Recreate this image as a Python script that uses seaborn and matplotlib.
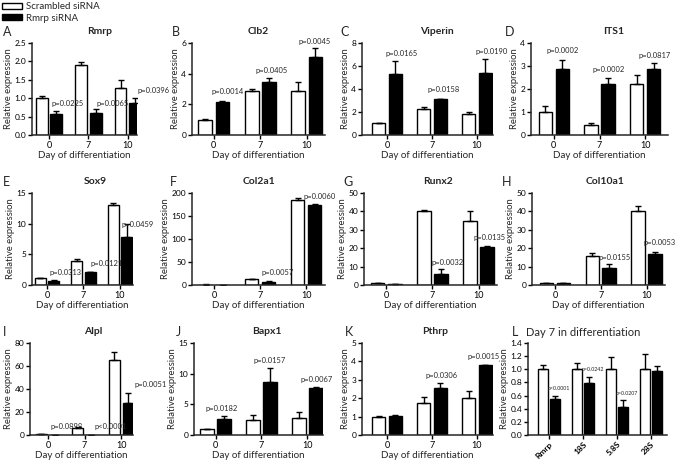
import matplotlib
matplotlib.use("Agg")
import matplotlib.pyplot as plt
import numpy as np
import pandas as pd
import seaborn as sns
from matplotlib.patches import Patch
from matplotlib.ticker import FormatStrFormatter

groups = ["Scrambled siRNA", "Rmrp siRNA"]
days = ["0", "7", "10"]
rrna = ["Rmrp", "18S", "5.8S", "28S"]

# values (mean, upper SEM)
rmrp_scr, rmrp_scr_err = [1.0, 1.9, 1.29], [0.05, 0.08, 0.21]
rmrp_si, rmrp_si_err = [0.58, 0.59, 0.86], [0.08, 0.13, 0.15]
rmrp_p = ["p=0.0225", "p=0.0065", "p=0.0396"]

clb2_scr, clb2_scr_err = [1.0, 2.9, 2.85], [0.03, 0.08, 0.62]
clb2_si, clb2_si_err = [2.18, 3.45, 5.08], [0.05, 0.27, 0.6]
clb2_p = ["p=0.0014", "p=0.0405", "p=0.0045"]

viperin_scr, viperin_scr_err = [1.0, 2.3, 1.85], [0.02, 0.12, 0.18]
viperin_si, viperin_si_err = [5.3, 3.1, 5.4], [1.15, 0.06, 1.2]
viperin_p = ["p=0.0165", "p=0.0158", "p=0.0190"]

its1_scr, its1_scr_err = [1.02, 0.43, 2.2], [0.22, 0.08, 0.42]
its1_si, its1_si_err = [2.86, 2.22, 2.86], [0.42, 0.24, 0.27]
its1_p = ["p=0.0002", "p=0.0002", "p=0.0817"]

sox9_scr, sox9_scr_err = [1.09, 3.93, 13.1], [0.1, 0.3, 0.25]
sox9_si, sox9_si_err = [0.65, 2.07, 7.9], [0.1, 0.1, 2.1]
sox9_p = ["p=0.0313", "p=0.0121", "p=0.0459"]

col2a1_scr, col2a1_scr_err = [1.0, 12.5, 185], [0.2, 1.0, 4.5]
col2a1_si, col2a1_si_err = [0.5, 7.3, 173.5], [0.1, 1.0, 1.5]
col2a1_p = ["", "p=0.0057", "p=0.0060"]

runx2_scr, runx2_scr_err = [0.9, 40, 35], [0.15, 1.0, 5.0]
runx2_si, runx2_si_err = [0.7, 6.0, 20.8], [0.1, 2.5, 0.6]
runx2_p = ["", "p=0.0032", "p=0.0135"]

col10a1_scr, col10a1_scr_err = [0.9, 15.8, 40.4], [0.1, 1.8, 2.3]
col10a1_si, col10a1_si_err = [1.1, 9.2, 16.8], [0.1, 2.0, 1.3]
col10a1_p = ["", "p=0.0155", "p=0.0053"]

alpl_scr, alpl_scr_err = [1.0, 5.8, 65.4], [0.2, 0.8, 6.4]
alpl_si, alpl_si_err = [0.3, 0.1, 27.6], [0.1, 0.05, 8.7]
alpl_p = ["p=0.0898", "p<0.0001", "p=0.0051"]

bapx1_scr, bapx1_scr_err = [1.0, 2.5, 2.8], [0.05, 0.75, 0.95]
bapx1_si, bapx1_si_err = [2.55, 8.6, 7.65], [0.55, 2.4, 0.2]
bapx1_p = ["p=0.0182", "p=0.0157", "p=0.0067"]

pthrp_scr, pthrp_scr_err = [1.0, 1.72, 2.0], [0.02, 0.35, 0.4]
pthrp_si, pthrp_si_err = [1.04, 2.55, 3.78], [0.03, 0.25, 0.04]
pthrp_p = ["", "p=0.0306", "p=0.0015"]

day7_scr, day7_scr_err = [1.0, 1.0, 1.0, 1.0], [0.06, 0.09, 0.19, 0.23]
day7_si, day7_si_err = [0.55, 0.79, 0.42, 0.98], [0.04, 0.09, 0.11, 0.07]
day7_p = ["p<0.0001", "p=0.0242", "p=0.0207", ""]

panels = [
    ("A", "Rmrp", days, rmrp_scr, rmrp_scr_err, rmrp_si, rmrp_si_err, rmrp_p),
    ("B", "Clb2", days, clb2_scr, clb2_scr_err, clb2_si, clb2_si_err, clb2_p),
    ("C", "Viperin", days, viperin_scr, viperin_scr_err, viperin_si, viperin_si_err, viperin_p),
    ("D", "ITS1", days, its1_scr, its1_scr_err, its1_si, its1_si_err, its1_p),
    ("E", "Sox9", days, sox9_scr, sox9_scr_err, sox9_si, sox9_si_err, sox9_p),
    ("F", "Col2a1", days, col2a1_scr, col2a1_scr_err, col2a1_si, col2a1_si_err, col2a1_p),
    ("G", "Runx2", days, runx2_scr, runx2_scr_err, runx2_si, runx2_si_err, runx2_p),
    ("H", "Col10a1", days, col10a1_scr, col10a1_scr_err, col10a1_si, col10a1_si_err, col10a1_p),
    ("I", "Alpl", days, alpl_scr, alpl_scr_err, alpl_si, alpl_si_err, alpl_p),
    ("J", "Bapx1", days, bapx1_scr, bapx1_scr_err, bapx1_si, bapx1_si_err, bapx1_p),
    ("K", "Pthrp", days, pthrp_scr, pthrp_scr_err, pthrp_si, pthrp_si_err, pthrp_p),
    ("L", "Day 7 in differentiation", rrna, day7_scr, day7_scr_err, day7_si, day7_si_err, day7_p),
]

# layout: axes box in pixels (left, right, top, bottom), xlim, ymax, ystep,
# title centre x, letter x (px), p-label positions (data units)
layout = {
    "A": ((32, 137, 43, 135), (-0.43, 2.23), 2.5, 0.5, 100, 3, [(0.46, 0.86), (1.62, 0.86), (2.66, 1.22)]),
    "B": ((192, 325, 43, 135), (-0.47, 2.39), 6, 2, 258, 172, [(0.3, 2.84), (1.25, 4.2), (2.17, 6.07)]),
    "C": ((362, 493, 43, 135), (-0.56, 2.36), 8, 2, 437, 340, [(0.33, 7.12), (1.26, 3.92), (2.33, 7.27)]),
    "D": ((531, 668, 43, 135), (-0.5, 2.5), 4, 1, 614, 505, [(0.19, 3.67), (1.2, 2.85), (2.2, 3.45)]),
    "E": ((32, 133, 193, 285), (-0.41, 2.36), 15, 5, 95, 3, [(0.5, 2.07), (1.64, 3.55), (2.48, 9.93)]),
    "F": ((192, 325, 193, 285), (-0.48, 2.41), 200, 50, 259, 170, [None, (1.37, 27.6), (2.3, 193)]),
    "G": ((364, 497, 193, 285), (-0.48, 2.4), 50, 10, 438, 343, [None, (1.33, 12.5), (2.24, 26)]),
    "H": ((532, 665, 193, 285), (-0.5, 2.4), 50, 10, 605, 502, [None, (1.3, 15.1), (2.29, 23.1)]),
    "I": ((30, 133, 343, 435), (-0.49, 2.32), 80, 20, 93, 3, [(0.5, 7.3), (1.7, 7.3), (2.8, 43.6)]),
    "J": ((194, 323, 343, 435), (-0.47, 2.34), 15, 5, 267, 176, [(0.14, 4.4), (1.17, 12.2), (2.2, 9.0)]),
    "K": ((362, 493, 343, 435), (-0.56, 2.36), 5, 1, 435, 345, [None, (1.22, 3.22), (2.16, 4.24)]),
    "L": ((528, 667, 343, 435), (-0.62, 3.47), 1.4, 0.2, 583, 512, [(0.3, 0.71), (1.29, 1.0), (2.29, 0.625), None]),
}

sns.set_style("ticks")
plt.rcParams["font.family"] = ["Lato", "DejaVu Sans"]
plt.rcParams["axes.linewidth"] = 1.1

W, H = 675, 461
fig = plt.figure(figsize=(W / 100, H / 100), dpi=100)
palette = {"Scrambled siRNA": "white", "Rmrp siRNA": "black"}

for letter, title, cats, scr, scr_err, si, si_err, pvals in panels:
    (l, r, t, b), xlim, ymax, ystep, tx, lx, ppos = layout[letter]
    ax = fig.add_axes([l / W, 1 - b / H, (r - l) / W, (b - t) / H])
    df = pd.DataFrame({
        "cat": cats * 2,
        "val": scr + si,
        "group": [groups[0]] * len(cats) + [groups[1]] * len(cats),
    })
    sns.barplot(data=df, x="cat", y="val", hue="group", order=cats, hue_order=groups,
                palette=palette, edgecolor="black", linewidth=1.0, width=0.74, gap=0.2,
                errorbar=None, legend=False, ax=ax)
    # upper error bars, positions taken from the drawn bars
    bars = sorted(ax.patches, key=lambda p: p.get_x())
    errs = [e for pair in zip(scr_err, si_err) for e in pair]
    xs = [p.get_x() + p.get_width() / 2 for p in bars]
    hs = [p.get_height() for p in bars]
    ax.errorbar(xs, hs, yerr=[np.zeros(len(errs)), errs], fmt="none", ecolor="black",
                elinewidth=1.0, capsize=2.2, capthick=1.0, zorder=1)
    ax.set_xlim(*xlim)
    ax.set_ylim(0, ymax)
    ax.set_yticks(np.arange(0, ymax + ystep / 2, ystep))
    if ystep < 1:
        ax.yaxis.set_major_formatter(FormatStrFormatter("%.1f"))
    sns.despine(ax=ax)
    ax.tick_params(length=3, width=1.0, pad=1.2, labelsize=6, colors="black")
    ax.tick_params(axis="x", labelsize=6.5)
    ax.set_ylabel("Relative expression", fontsize=6.8, labelpad=1)
    if letter == "L":
        ax.set_xlabel("")
        ax.tick_params(axis="x", pad=1)
        plt.setp(ax.get_xticklabels(), rotation=45, ha="right", rotation_mode="anchor",
                 fontweight="bold", fontsize=6)
        pfs = 3.8
    else:
        ax.set_xlabel("Day of differentiation", fontsize=7, labelpad=0.5)
        pfs = 5.4
    for txt, pos in zip(pvals, ppos):
        if txt and pos:
            ax.text(pos[0], pos[1], txt, fontsize=pfs, ha="center", va="center", clip_on=False)
    fig.text(lx / W, 1 - (t - 11) / H, letter, fontsize=9, ha="left", va="center")
    fig.text(tx / W, 1 - (t - 11) / H, title, fontsize=8 if letter == "L" else 7.5,
             fontweight="normal" if letter == "L" else "bold", ha="center", va="center")

handles = [Patch(facecolor="white", edgecolor="black", linewidth=1.0),
           Patch(facecolor="black", edgecolor="black", linewidth=1.0)]
fig.legend(handles, groups, loc="upper left", bbox_to_anchor=(0.0, 1.0), frameon=False,
           fontsize=7, handlelength=2.0, handleheight=0.55, handletextpad=0.4,
           labelspacing=0.25, borderaxespad=0.15, borderpad=0.1)

fig.savefig("out.png", dpi=100)
